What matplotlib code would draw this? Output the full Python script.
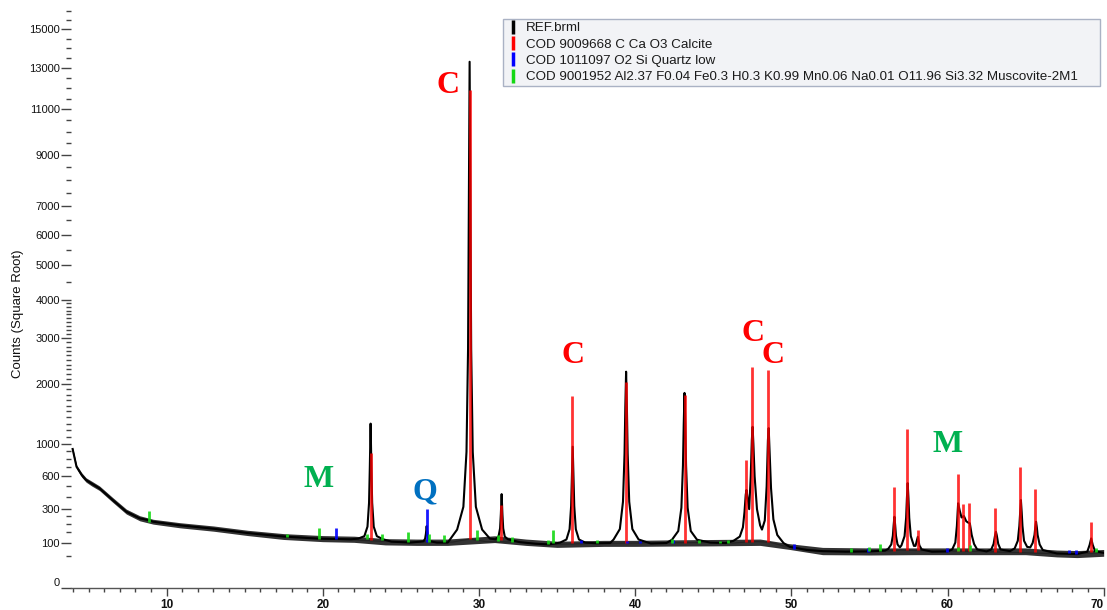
import numpy as np
import matplotlib
matplotlib.use('Agg')
import matplotlib.pyplot as plt
from matplotlib.lines import Line2D
from matplotlib.ticker import FixedLocator, FixedFormatter, NullFormatter

plt.rcParams['font.family'] = ['Liberation Sans', 'DejaVu Sans']

# ---------------- data (2-theta in degrees, counts) ----------------
scan_x = [3.98, 4.23, 4.56, 4.84, 5.2, 5.7, 6.55, 7.42, 8.28, 8.87, 9.14, 10.86, 13.0, 15.2, 17.5, 19.7, 21.8,
          22.26, 22.66, 22.86, 22.96, 23.01, 23.06, 23.11, 23.16, 23.26, 23.46, 23.86,
          24.4, 25.6, 26.25,
          26.45, 26.55, 26.6, 26.65, 26.7, 26.75, 26.85, 27.3, 28.0,
          28.6, 29.0, 29.2, 29.3, 29.35, 29.40, 29.45, 29.5, 29.6, 29.8, 30.2, 30.7,
          31.05, 31.25, 31.35, 31.4, 31.45, 31.5, 31.55, 31.65, 31.85, 32.6, 33.6, 34.5,
          35.2, 35.6, 35.8, 35.9, 35.95, 36.0, 36.05, 36.1, 36.2, 36.4, 36.8, 37.5, 38.4,
          38.62, 39.02, 39.22, 39.32, 39.37, 39.42, 39.47, 39.52, 39.62, 39.82, 40.22, 41.0, 42.0,
          42.36, 42.76, 42.96, 43.06, 43.11, 43.16, 43.21, 43.26, 43.36, 43.56, 43.96, 44.8, 45.8,
          46.3, 46.7, 46.9, 47.0, 47.08, 47.13, 47.2, 47.3, 47.4, 47.47, 47.52, 47.57, 47.65, 47.8,
          48.0, 48.12, 48.3, 48.42, 48.5, 48.55, 48.6, 48.7, 48.85, 49.1, 49.5, 49.9, 51.0, 52.0,
          53.5, 55.0, 56.0,
          56.2, 56.4, 56.5, 56.55, 56.6, 56.65, 56.7, 56.8, 56.95,
          57.05, 57.25, 57.35, 57.4, 57.45, 57.5, 57.55, 57.65, 57.85,
          57.95, 58.1, 58.2, 58.35, 59.0, 60.0,
          60.3, 60.5, 60.6, 60.68, 60.78, 60.9, 61.05, 61.2, 61.35, 61.43, 61.55, 61.7, 61.9, 62.5,
          62.8, 62.95, 63.05, 63.1, 63.15, 63.25, 63.4, 64.0,
          64.3, 64.5, 64.6, 64.65, 64.7, 64.75, 64.8, 64.9, 65.1,
          65.3, 65.45, 65.57, 65.62, 65.67, 65.72, 65.77, 65.9, 66.1, 67.0, 68.3,
          68.95, 69.1, 69.2, 69.3, 69.45, 70.0]
scan_y = [930, 708, 615, 562, 525, 479, 373, 281, 234, 222, 212, 190, 170, 146, 128, 118, 115,
          118, 130, 182, 350, 705, 1300, 705, 350, 182, 130, 115,
          104, 100, 104,
          106, 118, 142, 185, 142, 118, 106, 100, 100,
          165, 318, 893, 2750, 6700, 13300, 6700, 2750, 893, 318, 165, 118,
          115, 128, 172, 265, 425, 265, 172, 128, 115, 102, 95, 92,
          100, 114, 167, 324, 605, 961, 605, 324, 167, 114, 100, 97, 98,
          114, 168, 359, 869, 1579, 2250, 1579, 869, 359, 168, 114, 96, 98,
          113, 157, 311, 722, 1293, 1830, 1293, 722, 311, 157, 113, 100, 98,
          108, 128, 178, 278, 420, 463, 390, 300, 600, 1050, 1250, 1000, 600, 300,
          190, 165, 220, 500, 1050, 1230, 950, 480, 228, 136, 98, 82, 70, 66,
          64, 65, 68,
          74, 92, 132, 190, 245, 190, 132, 92, 80,
          88, 130, 238, 388, 530, 388, 238, 130, 86,
          86, 127, 88, 72, 64, 65,
          72, 100, 186, 346, 290, 240, 250, 215, 205, 202, 136, 94, 72, 65,
          72, 94, 136, 153, 136, 94, 72, 66,
          76, 108, 186, 278, 373, 278, 186, 108, 82,
          80, 98, 136, 178, 212, 178, 136, 92, 70, 58, 56,
          64, 90, 119, 90, 66, 60]

# spread of the counting noise around the background (lower / upper edge of the dark band)
noise_x = [3.98, 4.23, 4.56, 4.84, 5.2, 5.7, 6.55, 7.42, 8.28, 9.14, 10.86, 13.0, 15.2, 17.5, 20.0,
           22.0, 24.0, 26.0, 28.0, 31.0, 33.0, 35.0, 38.0, 40.0, 42.0, 45.0, 48.0, 49.9, 52.0,
           55.0, 58.0, 60.0, 62.0, 65.0, 67.0, 68.3, 70.0]
noise_lo = [905, 688, 592, 540, 502, 458, 354, 264, 218, 197, 175, 156, 133, 114, 104,
            101, 90, 88, 88, 100, 88, 80, 84, 84, 85, 86, 88, 72, 54,
            53, 54, 54, 54, 54, 47, 45, 49]
noise_hi = [950, 730, 640, 585, 550, 502, 394, 300, 252, 228, 206, 186, 161, 143, 133,
            130, 118, 116, 116, 132, 116, 106, 110, 110, 112, 114, 116, 95, 80,
            78, 78, 78, 78, 78, 70, 68, 72]

bkg_x = [3.98, 4.23, 4.56, 4.84, 5.7, 6.55, 7.42, 8.28, 9.14, 10.86, 15.0, 20.0, 24.4, 28.3, 28.9,
         29.4, 29.9, 30.5, 32.6, 34.5, 38.0, 44.5, 46.3, 47.0, 47.8, 48.6, 49.5, 52.0, 56.0, 57.0,
         58.0, 62.0, 67.0, 70.0]
bkg_y = [930, 708, 615, 562, 479, 373, 281, 234, 212, 190, 148, 118, 104, 102, 110,
         116, 110, 104, 102, 92, 97, 100, 98, 102, 104, 102, 86, 66, 66, 70,
         68, 65, 57, 60]

calcite_x = [23.06, 29.41, 31.44, 35.97, 39.41, 43.16, 47.12, 47.49, 48.52, 56.57, 57.41, 58.08,
             60.68, 61.02, 61.38, 63.05, 64.65, 65.63, 69.17]
calcite_top = [881, 11910, 332, 1778, 2046, 1790, 789, 2354, 2285, 488, 1216, 163,
               626, 338, 346, 306, 702, 469, 212]
calcite_base = [112, 116, 110, 97, 97, 98, 102, 103, 103, 68, 70, 70,
                68, 68, 68, 64, 64, 64, 62]

quartz_x = [20.84, 26.65, 36.55, 39.45, 40.30, 42.45, 50.15, 54.90, 59.97, 67.75, 68.20]
quartz_top = [172, 299, 110, 106, 106, 112, 92, 78, 76, 70, 70]
quartz_base = [118, 104, 97, 97, 97, 98, 74, 64, 64, 58, 56]

musc_x = [8.87, 17.70, 19.77, 22.80, 23.76, 25.47, 26.80, 27.77, 29.85, 31.20, 32.10, 34.40, 34.75,
          37.57, 42.33, 44.10, 45.42, 45.93, 53.80, 55.00, 55.66, 60.68, 61.43, 69.54]
musc_top = [288, 140, 172, 141, 140, 150, 140, 135, 160, 135, 128, 112, 163,
            110, 118, 112, 108, 110, 78, 82, 92, 82, 90, 78]
musc_base = [212, 126, 118, 116, 112, 102, 104, 102, 110, 108, 102, 92, 96,
             97, 98, 100, 98, 98, 64, 65, 66, 68, 68, 62]

y_major = [0, 100, 300, 600, 1000, 2000, 3000, 4000, 5000, 6000, 7000, 9000, 11000, 13000, 15000]
y_minor = ([50, 150, 200, 250, 400, 500, 700, 800, 900] + list(range(1100, 2000, 100))
           + list(range(2100, 3000, 100)) + list(range(3100, 4000, 100))
           + [4500, 5500, 6500, 7500, 8000, 8500, 9500, 10000, 10500, 11500, 12000, 12500,
              13500, 14000, 14500, 15500, 16000])
x_major = [10, 20, 30, 40, 50, 60, 70]
x_minor = [v for v in range(4, 71) if v % 10 != 0]

legend_labels = ['REF.brml',
                 'COD 9009668 C Ca O3 Calcite',
                 'COD 1011097 O2 Si Quartz low',
                 'COD 9001952 Al2.37 F0.04 Fe0.3 H0.3 K0.99 Mn0.06 Na0.01 O11.96 Si3.32 Muscovite-2M1']

# phase labels: text, 2theta, counts (baseline), colour
phase_labels = [('C', 28.04, 11770, '#ff0000'),
                ('C', 36.01, 2427, '#ff0000'),
                ('C', 47.54, 2939, '#ff0000'),
                ('C', 48.82, 2427, '#ff0000'),
                ('M', 19.71, 488, '#00b050'),
                ('Q', 26.54, 382, '#0070c0'),
                ('M', 59.99, 894, '#00b050')]

# ---------------- figure ----------------
fig = plt.figure(figsize=(11.07, 6.10), dpi=100)
ax = fig.add_axes([0.0641, 0.0357, 0.9329, 0.9466])
ax.set_yscale('function', functions=(lambda v: np.sqrt(np.clip(v, 0, None)),
                                     lambda v: np.square(v)))

ax.plot(bkg_x, bkg_y, color='#b4b4b4', lw=0.9, zorder=1)
ax.fill_between(noise_x, noise_lo, noise_hi, color='black', alpha=0.8, lw=0, zorder=2)
ax.plot(scan_x, scan_y, color='black', lw=1.5, zorder=2)
ax.vlines(calcite_x, calcite_base, calcite_top, colors='#ff0000', lw=2.0, alpha=0.8, zorder=3)
ax.vlines(quartz_x, quartz_base, quartz_top, colors='#0000ff', lw=2.0, alpha=0.9, zorder=3)
ax.vlines(musc_x, musc_base, musc_top, colors='#14d814', lw=2.0, alpha=0.9, zorder=3)

for txt, xx, yy, col in phase_labels:
    ax.text(xx, yy, txt, color=col, fontsize=23, fontweight='bold',
            family=['Liberation Serif', 'DejaVu Serif'], ha='center', va='baseline', zorder=5)

ax.set_xlim(3.873, 70.0)
ax.set_ylim(0, 16000)

for s in ('left', 'top', 'right'):
    ax.spines[s].set_visible(False)
ax.spines['bottom'].set_color('#555555')
ax.spines['bottom'].set_linewidth(1.0)

ax.yaxis.set_major_locator(FixedLocator(y_major))
ax.yaxis.set_major_formatter(FixedFormatter([str(v) for v in y_major]))
ax.yaxis.set_minor_locator(FixedLocator(y_minor))
ax.yaxis.set_minor_formatter(NullFormatter())
ax.xaxis.set_major_locator(FixedLocator(x_major))
ax.xaxis.set_major_formatter(FixedFormatter([str(v) for v in x_major]))
ax.xaxis.set_minor_locator(FixedLocator(x_minor))
ax.xaxis.set_minor_formatter(NullFormatter())

ax.tick_params(axis='y', which='major', length=7, width=1.0, color='#444444', pad=1,
               labelsize=8, labelcolor='#111111')
ax.tick_params(axis='y', which='minor', length=3.5, width=1.0, color='#444444')
ax.tick_params(axis='x', which='major', length=6, width=1.0, color='#444444', pad=2,
               labelsize=8.5, labelcolor='#111111')
ax.tick_params(axis='x', which='minor', length=3, width=1.0, color='#444444')
xlabels = ax.get_xticklabels()
for lab in xlabels:
    lab.set_fontweight('bold')
xlabels[-1].set_ha('right')
ax.get_yticklabels()[0].set_va('bottom')

fig.text(18 / 1107, 1 - 314 / 610, 'Counts (Square Root)', rotation=90,
         va='center', ha='center', fontsize=9.5, color='#111111')

handles = [Line2D([], [], color=c, marker='|', ls='None', markersize=10, markeredgewidth=2.5)
           for c in ['black', '#ff0000', '#0000ff', '#14d814']]
leg = fig.legend(handles, legend_labels, loc='upper left',
                 bbox_to_anchor=(503 / 1107, 1 - 87 / 610, 597 / 1107, 68 / 610),
                 mode='expand', borderaxespad=0, fontsize=9.6, frameon=True, fancybox=False,
                 framealpha=1, facecolor='#f2f3f6', edgecolor='#aab2c4',
                 handlelength=1.0, handletextpad=0.5, labelspacing=0.3, borderpad=0.22)
leg.get_frame().set_linewidth(1.0)
for t in leg.get_texts():
    t.set_color('#1a1a1a')

fig.savefig('out.png', dpi=100)
